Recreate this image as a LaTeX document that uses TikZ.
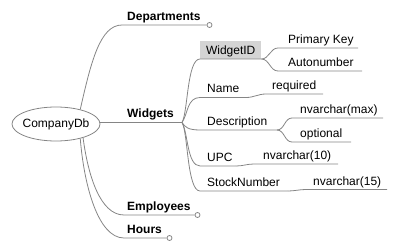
\documentclass[tikz,border=0pt]{standalone}
\usepackage{fontspec}
\setmainfont{Liberation Sans}
\usepackage{tikz}
\usetikzlibrary{shapes.geometric}
\definecolor{Grey}{HTML}{858585}
\definecolor{Shade}{HTML}{D4D4D4}

\begin{document}
\begin{tikzpicture}[x=1pt,y=-1pt,
    every node/.style={font=\fontsize{12}{14}\selectfont},
    ln/.style={draw=Grey,line width=0.8pt},
    hd/.style={anchor=base west,inner sep=0pt,font=\fontsize{12}{14}\selectfont\bfseries},
    fd/.style={anchor=base west,inner sep=0pt},
    knob/.style={circle,draw=Grey,fill=white,line width=0.8pt,inner sep=0pt,minimum size=5pt},
    sc/.style={out=0,in=180}]
    \useasboundingbox (0,0) rectangle (398,248);
    \node[ellipse,draw=Grey,line width=0.8pt,minimum width=88pt,minimum height=34pt,inner xsep=-3pt,inner ysep=0pt] (root) at (56,124) {CompanyDb};
    \node[hd] (dep) at (127,20.5) {Departments};
    \coordinate (dep-a) at (122,25);
    \node[knob] (dep-o) at (209.5,25) {};
    \draw[ln] (root.31) .. controls (91,62) and (100,25) .. (dep-a) -- (dep-o);
    \node[hd] (wid) at (127,117.5) {Widgets};
    \coordinate (wb) at (182,122.5);
    \draw[ln] (root.east |- wb) -- (wb);
    \node[fill=Shade,minimum width=61pt,minimum height=18pt,inner sep=0pt,text height=8.6pt,text depth=0pt,anchor=south west] (wid-id) at (200,59) {WidgetID};
    \draw[ln] (wb) .. controls (188,112) and (187,59) .. (wid-id.south west) -- (wid-id.south east);
    \node[fd] (pk) at (288,43.5) {Primary Key};
    \coordinate (pk-a) at (278,48); \coordinate (pk-b) at (358,48);
    \draw[ln] (wid-id.south east) to[sc] (pk-a) -- (pk-b);
    \node[fd] (auto) at (288,66.5) {Autonumber};
    \coordinate (auto-a) at (278,71); \coordinate (auto-b) at (362,71);
    \draw[ln] (wid-id.south east) to[sc] (auto-a) -- (auto-b);
    \node[fd] (name) at (207,93) {Name};
    \coordinate (name-a) at (200,97.5); \coordinate (name-b) at (246,97.5);
    \draw[ln] (wb) .. controls (188,114) and (187,97.5) .. (name-a) -- (name-b);
    \node[fd] (req) at (272,89.5) {required};
    \coordinate (req-a) at (266,94); \coordinate (req-b) at (323,94);
    \draw[ln] (name-b) to[sc] (req-a) -- (req-b);
    \node[fd] (desc) at (207,125.5) {Description};
    \coordinate (desc-a) at (200,130); \coordinate (desc-b) at (277,130);
    \draw[ln] (wb) .. controls (185,127) and (188,130) .. (desc-a) -- (desc-b);
    \node[fd] (nvmax) at (300,113.5) {nvarchar(max)};
    \coordinate (nvmax-a) at (292,118); \coordinate (nvmax-b) at (383,118);
    \draw[ln] (desc-b) to[sc] (nvmax-a) -- (nvmax-b);
    \node[fd] (opt) at (300,137.5) {optional};
    \coordinate (opt-a) at (292,142); \coordinate (opt-b) at (351,142);
    \draw[ln] (desc-b) to[sc] (opt-a) -- (opt-b);
    \node[fd] (upc) at (207,161.5) {UPC};
    \coordinate (upc-a) at (200,166); \coordinate (upc-b) at (236,166);
    \draw[ln] (wb) .. controls (188,132) and (187,166) .. (upc-a) -- (upc-b);
    \node[fd] (nv10) at (263,159.5) {nvarchar(10)};
    \coordinate (nv10-a) at (254,164); \coordinate (nv10-b) at (338,164);
    \draw[ln] (upc-b) to[sc] (nv10-a) -- (nv10-b);
    \node[fd] (stock) at (207,186.5) {StockNumber};
    \coordinate (stock-a) at (200,191); \coordinate (stock-b) at (288,191);
    \draw[ln] (wb) .. controls (188,132) and (187,191) .. (stock-a) -- (stock-b);
    \node[fd] (nv15) at (313,185) {nvarchar(15)};
    \coordinate (nv15-a) at (306,189.5); \coordinate (nv15-b) at (387,189.5);
    \draw[ln] (stock-b) to[sc] (nv15-a) -- (nv15-b);
    \node[hd] (emp) at (127,210.5) {Employees};
    \coordinate (emp-a) at (124,215);
    \node[knob] (emp-o) at (197.5,215) {};
    \draw[ln] (root.-27) .. controls (88,175) and (100,215) .. (emp-a) -- (emp-o);
    \node[hd] (hrs) at (127,233.5) {Hours};
    \coordinate (hrs-a) at (124,238);
    \node[knob] (hrs-o) at (169.5,238) {};
    \draw[ln] (root.-31) .. controls (84,185) and (98,238) .. (hrs-a) -- (hrs-o);
\end{tikzpicture}
\end{document}
